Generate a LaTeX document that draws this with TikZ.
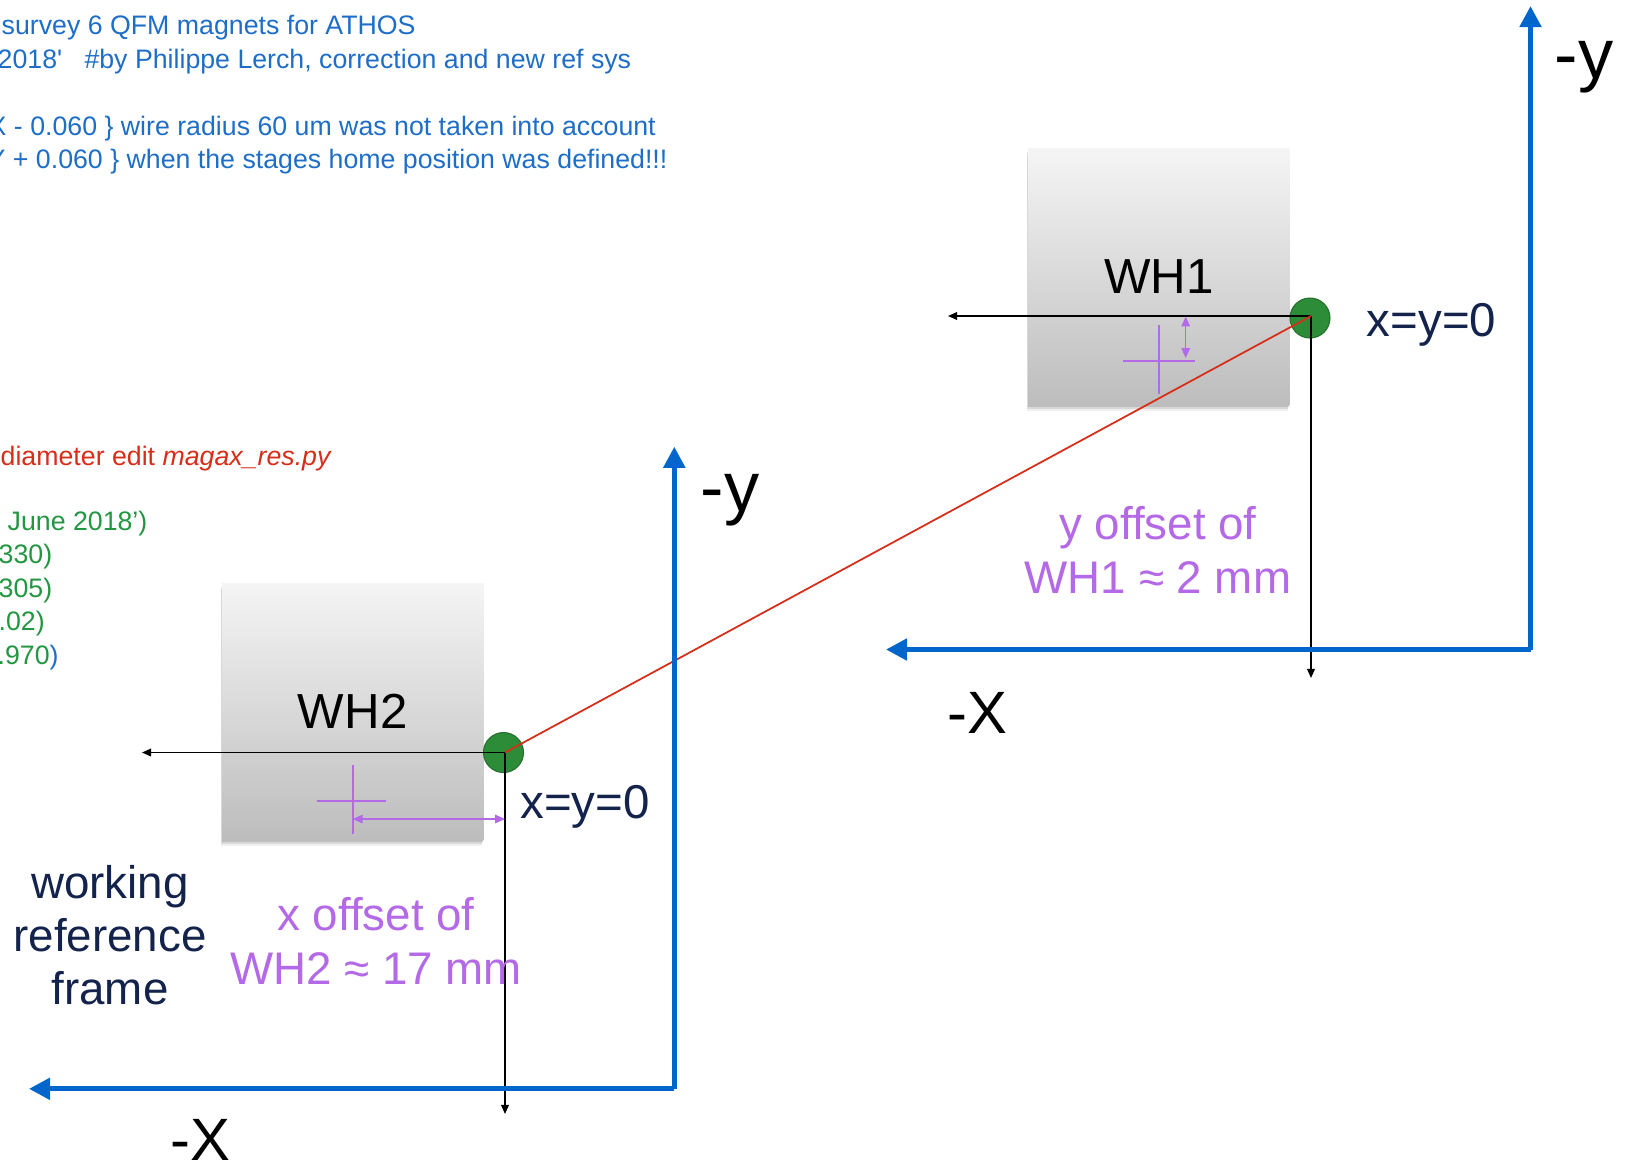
\documentclass[tikz,border=0pt]{standalone}
\usepackage{fontspec}
\setmainfont{Liberation Sans}
\usetikzlibrary{arrows.meta,shadows}
\definecolor{axisblue}{RGB}{0,102,204}
\definecolor{codeblue}{RGB}{30,110,200}
\definecolor{navy}{RGB}{20,35,75}
\definecolor{lilac}{RGB}{180,105,230}
\definecolor{dotgreen}{RGB}{45,140,55}
\definecolor{codered}{RGB}{215,45,25}
\definecolor{codegreen}{RGB}{35,150,65}
\begin{document}
\begin{tikzpicture}[x=0.01cm,y=-0.01cm,
  axisline/.style={line width=1.4pt, draw=axisblue, -{Triangle[length=6pt,width=6pt]}},
  guide/.style={line width=0.45pt, draw=black, -{Triangle[length=2.6pt,width=2.2pt]}},
  offsetarrow/.style={line width=0.45pt, draw=lilac, {Triangle[length=2.8pt,width=2.4pt]}-{Triangle[length=2.8pt,width=2.4pt]}},
  crossline/.style={line width=0.5pt, draw=lilac},
  whbox/.style={minimum width=2.61cm, minimum height=2.566cm, inner sep=0pt,
    top color=black!4, bottom color=black!26, draw=none,
    general shadow={shadow xshift=0pt, shadow yshift=-0.5pt, opacity=0.12, fill=black, rounded corners=1pt},
    general shadow={shadow xshift=-0.3pt, shadow yshift=-1.1pt, opacity=0.10, fill=black, rounded corners=1.5pt},
    general shadow={shadow xshift=-0.4pt, shadow yshift=-1.7pt, opacity=0.06, fill=black, rounded corners=2pt},
    font=\fontsize{14}{16}\selectfont},
  dot/.style={circle, minimum size=0.4cm, inner sep=0pt, fill=dotgreen, draw=dotgreen!80!black, line width=0.3pt},
  code/.style={anchor=base west, inner sep=0pt, font=\fontsize{7.6}{9}\selectfont},
  axislabel/.style={inner sep=0pt, text=black},
  origin/.style={inner sep=0pt, text=navy, font=\fontsize{13.5}{16}\selectfont},
  offsettext/.style={inner sep=0pt, text=lilac, align=center, font=\fontsize{13}{15.4}\selectfont},
]
\useasboundingbox (0,0) rectangle (1629,1162);
\clip (0,0) rectangle (1629,1162);

% code text
\node[code, text=codeblue] (c1) at (1,34) {survey 6 QFM magnets for ATHOS};
\node[code, text=codeblue] (c2) at (-3,68) {2018\textquotesingle\ \ \ \#by Philippe Lerch, correction and new ref sys};
\node[code, text=codeblue] (c3) at (-12,135) {X - 0.060 \} wire radius 60 um was not taken into account};
\node[code, text=codeblue] (c4) at (-13,168) {Y + 0.060 \} when the stages home position was defined!!!};
\node[code, text=codered] (c5) at (0,465) {diameter edit \textit{magax\_res.py}};
\node[code, text=codegreen] (c6) at (7,530) {June 2018’)};
\node[code, text=codegreen] (c7) at (-2,563) {330)};
\node[code, text=codegreen] (c8) at (-2,597) {305)};
\node[code, text=codegreen] (c9) at (-2,630) {.02)};
\node[code, text=codegreen] (c10) at (-3,664) {.970\textcolor{codeblue}{)}};

% boxes
\node[whbox] (wh1) at (1158.9,276.9) {WH1};
\node[whbox] (wh2) at (352.7,711.7) {WH2};

% purple crosses
\draw[crossline] (1158.7,325) -- (1158.7,394);
\draw[crossline] (1122.7,360.7) -- (1195,360.7);
\draw[crossline] (352.7,765) -- (352.7,834);
\draw[crossline] (316.7,800.7) -- (385.7,800.7);

% origins
\coordinate (o1) at (1311,316);
\coordinate (o2) at (505,752.5);
\node[dot] (d1) at (1310,318) {};
\node[dot] (d2) at (503.5,752.5) {};

% guide lines
\coordinate (g1l) at (948,316);
\coordinate (g1d) at (1311,678);
\coordinate (g2l) at (142,752.5);
\coordinate (g2d) at (505,1114);
\draw[guide] (o1) -- (g1l);
\draw[guide] (o1) -- (g1d);
\draw[guide] (o2) -- (g2l);
\draw[guide] (o2) -- (g2d);

% offset arrows
\coordinate (a1t) at (1185.7,316.5);
\coordinate (a1b) at (1185.7,358);
\draw[offsetarrow] (a1t) -- (a1b);
\coordinate (a2l) at (352.7,819);
\coordinate (a2r) at (505,819);
\draw[offsetarrow] (a2l) -- (a2r);

% red line
\draw[codered, line width=0.5pt] (o2) -- (o1);

% axes
\coordinate (r0) at (1530.5,649.5);
\coordinate (ry) at (1530.5,6);
\coordinate (rx) at (886,649.5);
\coordinate (l0) at (674.3,1088.8);
\coordinate (ly) at (674.3,446.7);
\coordinate (lx) at (29,1088.8);
\draw[axisline] (r0) -- (ry);
\draw[axisline] (r0) -- (rx);
\draw[axisline] (l0) -- (ly);
\draw[axisline] (l0) -- (lx);

\node[axislabel, font=\fontsize{20}{22}\selectfont] (rylab) at (1584,67) {-y};
\node[axislabel, font=\fontsize{20}{22}\selectfont] (lylab) at (730,500) {-y};
\node[axislabel, font=\fontsize{17}{19}\selectfont] (rxlab) at (977,713) {-X};
\node[axislabel, font=\fontsize{17}{19}\selectfont] (lxlab) at (200.5,1140) {-X};

\node[origin] (z1) at (1431.6,325) {x=y=0};
\node[origin] (z2) at (585,807) {x=y=0};

\node[offsettext] (t1) at (1158,549.6) {y offset of\\WH1 ≈ 2 mm};
\node[offsettext] (t2) at (376,941) {x offset of\\WH2 ≈ 17 mm};

\node[inner sep=0pt, text=navy, align=center, font=\fontsize{13}{15}\selectfont] (frame) at (110,935) {working\\reference\\frame};
\end{tikzpicture}
\end{document}
